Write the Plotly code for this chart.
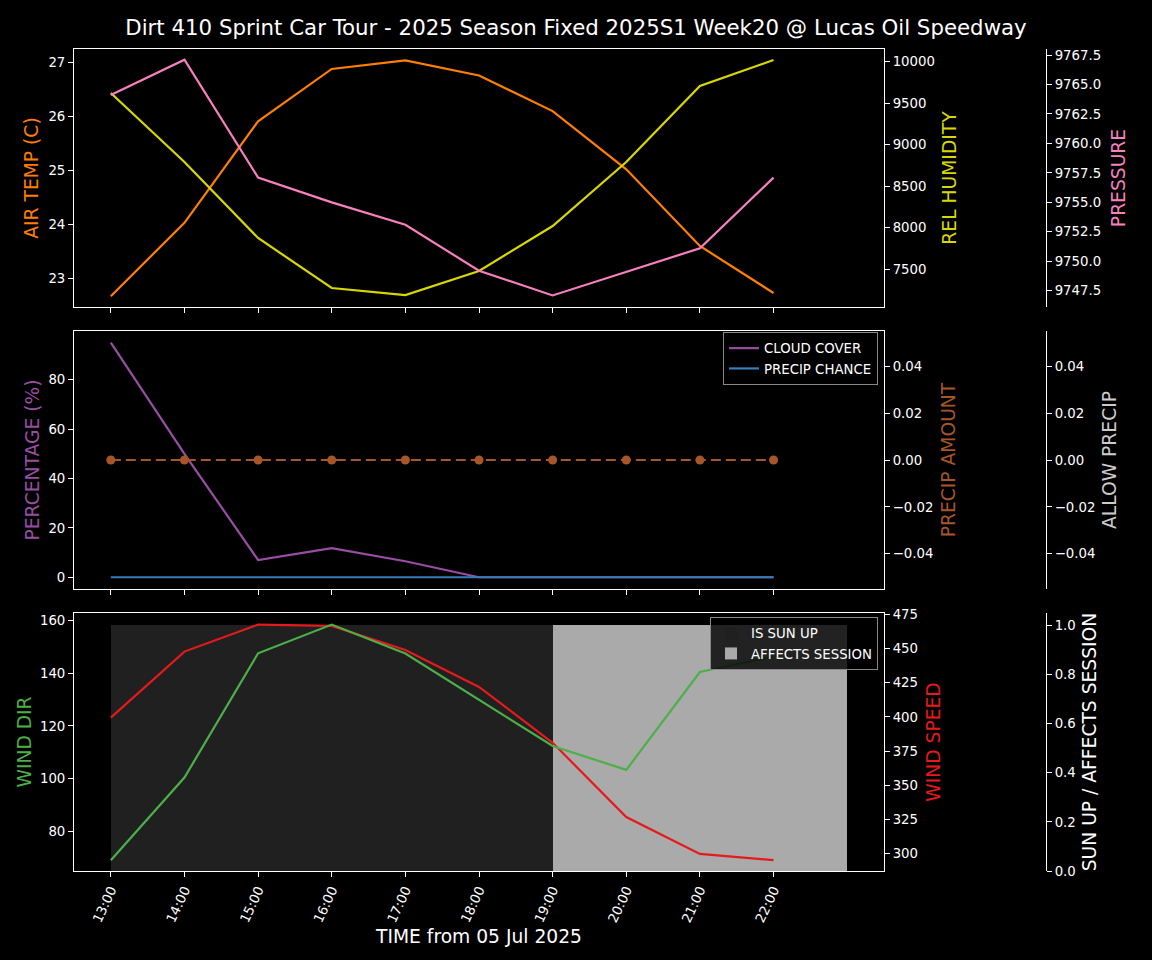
import plotly.graph_objects as go

hours = [13, 14, 15, 16, 17, 18, 19, 20, 21, 22]
tick_labels = [f"{h}:00" for h in hours]

air_temp = [22.67, 24.03, 25.91, 26.88, 27.04, 26.76, 26.10, 25.02, 23.60, 22.73]
rel_humidity = [9623, 8792, 7877, 7275, 7190, 7480, 8021, 8792, 9707, 10020]
pressure = [9764.1, 9767.1, 9757.1, 9755.0, 9753.1, 9749.2, 9747.1, 9749.1, 9751.1, 9757.1]

cloud_cover = [95, 50, 7, 11.8, 6.5, 0, 0, 0, 0, 0]
precip_chance = [0, 0, 0, 0, 0, 0, 0, 0, 0, 0]
precip_amount = [0, 0, 0, 0, 0, 0, 0, 0, 0, 0]
allow_precip = [0, 0, 0, 0, 0, 0, 0, 0, 0, 0]

wind_dir = [69, 100.4, 147.6, 158.5, 147.5, 129.9, 112.4, 103.3, 140.5, 146.3]
wind_speed = [399.5, 447.9, 467.7, 466.7, 449.1, 422.0, 381.0, 326.6, 299.5, 295.0]
sun_up = [1, 1, 1, 1, 1, 1, 1, 1, 0, 0]
affects_session = [0, 0, 0, 0, 0, 0, 1, 1, 1, 1]

TITLE = "Dirt 410 Sprint Car Tour - 2025 Season Fixed 2025S1 Week20 @ Lucas Oil Speedway"

C_TEMP = "#ff7f00"
C_HUM = "#d8d800"
C_PRES = "#f781bf"
C_CLOUD = "#984ea3"
C_PCHANCE = "#377eb8"
C_PAMT = "#a65628"
C_WDIR = "#4daf4a"
C_WSPD = "#e41a1c"

W, H = 1152, 960
XL, XR = 74 / W, 884 / W
XFREE = 1046 / W
D1 = [1 - 307 / H, 1 - 49 / H]
D2 = [1 - 589 / H, 1 - 331 / H]
D3 = [1 - 871 / H, 1 - 613 / H]

FONT = "DejaVu Sans"
TICKF = dict(family=FONT, size=13.3, color="white")
TITLEF = 18.7
LW = 2.2

fig = go.Figure()

# Panel 1
fig.add_trace(go.Scatter(x=hours, y=air_temp, mode="lines", line=dict(color=C_TEMP, width=LW),
                         xaxis="x", yaxis="y", showlegend=False, name="AIR TEMP"))
fig.add_trace(go.Scatter(x=hours, y=rel_humidity, mode="lines", line=dict(color=C_HUM, width=LW),
                         xaxis="x", yaxis="y2", showlegend=False, name="REL HUMIDITY"))
fig.add_trace(go.Scatter(x=hours, y=pressure, mode="lines", line=dict(color=C_PRES, width=LW),
                         xaxis="x", yaxis="y3", showlegend=False, name="PRESSURE"))

# Panel 2
fig.add_trace(go.Scatter(x=hours, y=cloud_cover, mode="lines", line=dict(color=C_CLOUD, width=LW),
                         xaxis="x2", yaxis="y4", name="CLOUD COVER", legend="legend"))
fig.add_trace(go.Scatter(x=hours, y=precip_chance, mode="lines", line=dict(color=C_PCHANCE, width=LW),
                         xaxis="x2", yaxis="y4", name="PRECIP CHANCE", legend="legend"))
fig.add_trace(go.Scatter(x=hours, y=precip_amount, mode="lines+markers",
                         line=dict(color=C_PAMT, width=LW, dash="10px,5px"),
                         marker=dict(color=C_PAMT, size=9),
                         xaxis="x2", yaxis="y5", showlegend=False, name="PRECIP AMOUNT"))
fig.add_trace(go.Scatter(x=hours, y=allow_precip, mode="lines", line=dict(color="#cccccc", width=1),
                         opacity=0, xaxis="x2", yaxis="y6", showlegend=False, name="ALLOW PRECIP"))

# Panel 3 (bars on base axis y7, lines on overlays)
fig.add_trace(go.Bar(x=hours, y=sun_up, width=1, offset=0, marker=dict(color="#202020", line=dict(width=0)),
                     xaxis="x3", yaxis="y7", name="IS SUN UP", legend="legend2"))
fig.add_trace(go.Bar(x=hours, y=affects_session, width=1, offset=0,
                     marker=dict(color="#aaaaaa", line=dict(width=0)),
                     xaxis="x3", yaxis="y7", name="AFFECTS SESSION", legend="legend2"))
fig.add_trace(go.Scatter(x=hours, y=wind_speed, mode="lines", line=dict(color=C_WSPD, width=LW),
                         xaxis="x3", yaxis="y8", showlegend=False, name="WIND SPEED"))
fig.add_trace(go.Scatter(x=hours, y=wind_dir, mode="lines", line=dict(color=C_WDIR, width=LW),
                         xaxis="x3", yaxis="y9", showlegend=False, name="WIND DIR"))

xcommon = dict(range=[12.5, 23.5], domain=[XL, XR], tickmode="array", tickvals=hours,
               ticks="outside", ticklen=5, tickcolor="white", tickfont=TICKF, automargin=False,
               showgrid=False, zeroline=False, showline=True, linecolor="white", linewidth=1,
               mirror=True)
ycommon = dict(ticks="outside", ticklen=5, tickcolor="white", tickfont=TICKF, automargin=False,
               showgrid=False, zeroline=False, showline=True, linecolor="white", linewidth=1)

layout = dict(
    template="none",
    width=W, height=H, autosize=False,
    paper_bgcolor="black", plot_bgcolor="black",
    margin=dict(l=0, r=0, t=0, b=0, pad=0),
    font=dict(family=FONT, color="white"),
    title=dict(text=TITLE, x=0.5, xanchor="center", y=1 - 28 / H, yanchor="middle",
               font=dict(size=21.3, color="white", family=FONT)),
    barmode="overlay",
    bargap=0,
    xaxis=dict(**xcommon, anchor="y", ticktext=[""] * len(hours), matches="x3"),
    xaxis2=dict(**xcommon, anchor="y4", ticktext=[""] * len(hours), matches="x3"),
    xaxis3=dict(**xcommon, anchor="y7", ticktext=tick_labels, tickangle=-65,
                title=dict(text="TIME from 05 Jul 2025", font=dict(size=TITLEF, color="white"), standoff=5)),
    # Panel 1
    yaxis=dict(**ycommon, domain=D1, anchor="x", side="left", mirror=True,
               range=[22.47, 27.25], tickvals=[23, 24, 25, 26, 27],
               title=dict(text="AIR TEMP (C)", font=dict(size=TITLEF, color=C_TEMP), standoff=4)),
    yaxis2=dict(**ycommon, overlaying="y", anchor="x", side="right",
                range=[7046, 10153], tickvals=[7500, 8000, 8500, 9000, 9500, 10000], tickformat="d",
                title=dict(text="REL HUMIDITY", font=dict(size=TITLEF, color=C_HUM), standoff=8)),
    yaxis3=dict(**ycommon, overlaying="y", anchor="free", position=XFREE, side="right",
                range=[9746.12, 9768.01], dtick=2.5, tick0=9747.5, tickformat=".1f",
                title=dict(text="PRESSURE", font=dict(size=TITLEF, color=C_PRES), standoff=11)),
    # Panel 2
    yaxis4=dict(**ycommon, domain=D2, anchor="x2", side="left", mirror=True,
                range=[-4.75, 99.75], tickvals=[0, 20, 40, 60, 80],
                title=dict(text="PERCENTAGE (%)", font=dict(size=TITLEF, color=C_CLOUD), standoff=3)),
    yaxis5=dict(**ycommon, overlaying="y4", anchor="x2", side="right",
                range=[-0.055, 0.055], tickvals=[-0.04, -0.02, 0, 0.02, 0.04], tickformat=".2f",
                title=dict(text="PRECIP AMOUNT", font=dict(size=TITLEF, color=C_PAMT), standoff=9)),
    yaxis6=dict(**ycommon, overlaying="y4", anchor="free", position=XFREE, side="right",
                range=[-0.055, 0.055], tickvals=[-0.04, -0.02, 0, 0.02, 0.04], tickformat=".2f",
                title=dict(text="ALLOW PRECIP", font=dict(size=TITLEF, color="#cccccc"), standoff=8)),
    # Panel 3
    yaxis7=dict(**ycommon, domain=D3, anchor="free", position=XFREE, side="right",
                range=[0, 1.05], tickvals=[0, 0.2, 0.4, 0.6, 0.8, 1.0], tickformat=".1f",
                title=dict(text="SUN UP / AFFECTS SESSION", font=dict(size=TITLEF, color="white"), standoff=8)),
    yaxis8=dict(**ycommon, overlaying="y7", anchor="x3", side="right",
                range=[287.0, 476.2], tickvals=[300, 325, 350, 375, 400, 425, 450, 475],
                title=dict(text="WIND SPEED", font=dict(size=TITLEF, color=C_WSPD), standoff=9)),
    yaxis9=dict(**ycommon, overlaying="y7", anchor="x3", side="left", mirror=True,
                range=[64.9, 162.9], tickvals=[80, 100, 120, 140, 160],
                title=dict(text="WIND DIR", font=dict(size=TITLEF, color=C_WDIR), standoff=3)),
    legend=dict(x=878 / W, y=1 - 332 / H, xanchor="right", yanchor="top",
                bgcolor="rgba(0,0,0,0.8)", bordercolor="#888888", borderwidth=1,
                font=dict(size=13.3, color="white", family=FONT), tracegroupgap=2),
    legend2=dict(x=878 / W, y=1 - 617 / H, xanchor="right", yanchor="top",
                 bgcolor="rgba(0,0,0,0.8)", bordercolor="#888888", borderwidth=1,
                 font=dict(size=13.3, color="white", family=FONT), tracegroupgap=2),
)
fig.update_layout(**layout)

fig.write_html(
    "out.html",
    config={"displayModeBar": False, "responsive": False},
    post_script="document.body.style.margin='0';document.body.style.background='black';"
                "document.documentElement.style.background='black';",
)
